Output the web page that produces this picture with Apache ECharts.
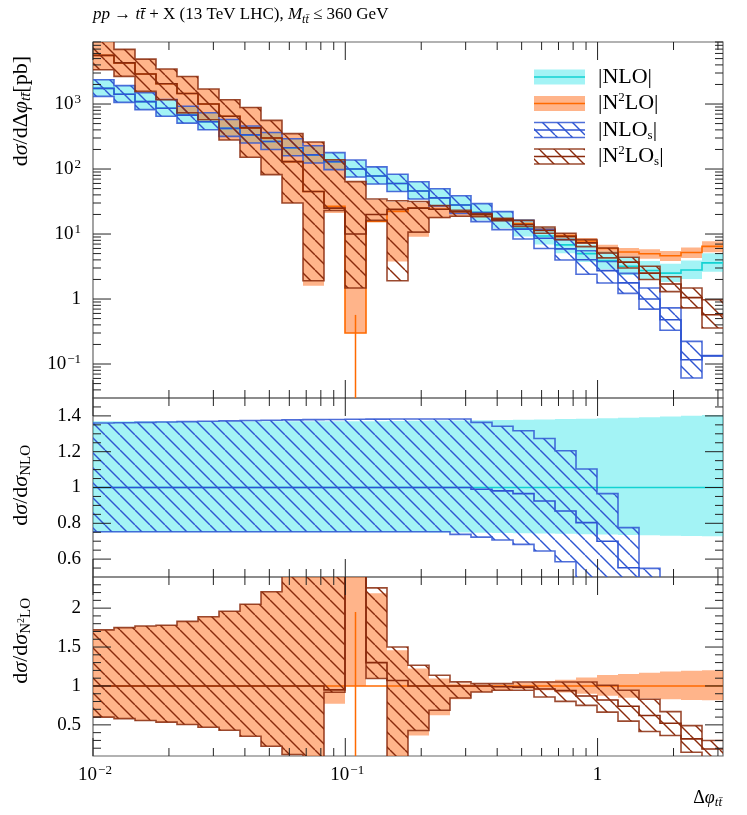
<!DOCTYPE html>
<html>
<head>
<meta charset="utf-8">
<script src="https://cdn.jsdelivr.net/npm/echarts@6.0.0/dist/echarts.min.js"></script>
<style>
html,body{margin:0;padding:0;background:#fff;}
#chart{width:747px;height:815px;}
</style>
</head>
<body>
<div id="chart"></div>
<script>
// ---------------- DATA ----------------
// 30 logarithmic bins of delta phi from 0.01 to pi
const binEdges = [0.01, 0.0121127, 0.0146716, 0.0177712, 0.0215257, 0.0260733, 0.0315817, 0.0382538, 0.0463355, 0.0561246,
  0.0679817, 0.0823439, 0.0997402, 0.120812, 0.146335, 0.177251, 0.214698, 0.260056, 0.314996, 0.381544,
  0.462151, 0.559788, 0.678051, 0.821300, 0.994802, 1.204969, 1.459537, 1.767887, 2.141380, 2.593779, 3.14159];

// main panel  [pb]
const nloMid = [1740, 1410, 1090, 860, 675, 535, 422, 335, 265, 212, 165, 130, 100, 78, 60, 46, 36, 28, 21.5, 16.5, 12.3, 9.3, 6.8, 5.0, 3.9, 3.2, 2.75, 2.5, 2.8, 3.6];
const nloHi  = [2384, 1932, 1493, 1178, 925, 733, 578, 459, 363, 290, 226, 178, 137, 107, 82.3, 63.2, 49.5, 38.5, 29.6, 22.7, 16.9, 12.8, 9.40, 6.92, 5.41, 4.45, 3.83, 3.49, 3.92, 5.06];
const nloLo  = [1305, 1058, 818, 645, 506, 401, 317, 251, 199, 159, 124, 97.5, 75, 58.5, 45, 34.5, 27.0, 20.9, 16.1, 12.3, 9.16, 6.91, 5.04, 3.70, 2.87, 2.35, 2.02, 1.83, 2.04, 2.62];

const n2loMid = [5600, 4300, 2900, 2050, 1450, 1000, 650, 430, 300, 130, 45, 26.6, 0.30, 15.6, 22.3, 25, 24, 22, 20, 17, 14.5, 11.8, 9.5, 7.8, 6.0, 5.3, 4.97, 4.64, 5.2, 6.45];
const n2loHi  = [9632, 6940, 4900, 3450, 2654, 1700, 1164, 882, 560, 350, 260, 139, 64, 33.5, 31.5, 30.6, 26.3, 22.7, 20.4, 17.3, 15.1, 12.5, 10.3, 8.66, 6.84, 6.12, 5.81, 5.50, 6.21, 7.76];
const n2loLo  = [3360, 2660, 1563, 1164, 732, 573, 280, 152, 82, 30, 1.6, 21, 0.30, 15.3, 3.79, 9.1, 17.5, 18.6, 18.4, 16.0, 13.9, 11.2, 8.7, 7.02, 5.25, 4.51, 4.17, 3.85, 4.26, 5.26];
const n2loStatUp = [null, null, null, null, null, null, null, null, null, null, null, null, 0.57, null, null, null, null, null, null, null, null, null, null, null, null, null, null, null, null, null];

const nlosMid = [1740, 1410, 1090, 860, 675, 535, 422, 335, 265, 212, 165, 130, 100, 78, 60, 46, 36, 28, 21.3, 16.2, 11.9, 8.60, 5.91, 4.02, 2.73, 1.77, 1.0, 0.48, 0.116, 0.134];
const nlosHi  = [2366, 1920, 1487, 1175, 923, 733, 579, 460, 365, 292, 228, 179, 138, 108, 83.0, 63.6, 49.8, 38.7, 29.3, 22.1, 16.2, 11.8, 8.19, 5.52, 3.77, 2.48, 1.48, 0.73, 0.223, 0.135];
const nlosLo  = [1310, 1062, 821, 648, 508, 403, 318, 252, 200, 160, 124, 97.9, 75.3, 58.7, 45.2, 34.6, 27.1, 20.7, 15.5, 11.7, 8.39, 6.0, 3.98, 2.4, 1.76, 1.22, 0.70, 0.33, 0.061, 0.133];

const n2losMid = [5600, 4300, 2900, 2050, 1450, 1000, 650, 430, 300, 130, 45, 25, 10, 20, 23.9, 25, 24, 22, 20, 16.8, 14.0, 11.3, 9.2, 7.3, 5.1, 3.7, 2.5, 1.7, 1.05, 0.574];
const n2losHi  = [9632, 6940, 4900, 3450, 2654, 1700, 1164, 882, 560, 350, 260, 139, 64, 34.5, 32.5, 31.7, 27.3, 23.1, 20.6, 17.5, 16.2, 12.8, 10.3, 8.2, 6.1, 4.4, 3.2, 2.2, 1.48, 0.975];
const n2losLo  = [3360, 2660, 1563, 1164, 732, 573, 280, 152, 82, 30, 1.91, 23, 1.48, 16.2, 1.91, 10.7, 18.0, 18.8, 18.5, 16.0, 13.1, 10.3, 8.2, 6.4, 4.3, 3.0, 2.0, 1.3, 0.73, 0.358];

// ratio to NLO
const rNloHi = [1.37, 1.37, 1.37, 1.37, 1.37, 1.37, 1.37, 1.37, 1.37, 1.37, 1.37, 1.37, 1.37, 1.37, 1.372, 1.373, 1.374, 1.375, 1.376, 1.377, 1.378, 1.38, 1.382, 1.384, 1.387, 1.39, 1.393, 1.397, 1.401, 1.405];
const rNloLo = [0.75, 0.75, 0.75, 0.75, 0.75, 0.75, 0.75, 0.75, 0.75, 0.75, 0.75, 0.75, 0.75, 0.75, 0.75, 0.75, 0.749, 0.748, 0.747, 0.746, 0.745, 0.743, 0.741, 0.739, 0.737, 0.735, 0.733, 0.731, 0.729, 0.727];
const rNlosHi  = [1.360, 1.362, 1.364, 1.366, 1.368, 1.370, 1.372, 1.374, 1.376, 1.378, 1.379, 1.380, 1.381, 1.382, 1.383, 1.383, 1.383, 1.383, 1.364, 1.342, 1.317, 1.274, 1.205, 1.103, 0.966, 0.776, 0.548, 0.292, 0.080, 0.037];
const rNlosMid = [1, 1, 1, 1, 1, 1, 1, 1, 1, 1, 1, 1, 1, 1, 1, 1, 1, 1, 0.99, 0.981, 0.966, 0.925, 0.869, 0.804, 0.700, 0.552, 0.364, 0.192, 0.041, 0.037];
const rNlosLo  = [0.753, 0.753, 0.753, 0.753, 0.753, 0.753, 0.753, 0.753, 0.753, 0.753, 0.753, 0.753, 0.753, 0.753, 0.753, 0.753, 0.753, 0.738, 0.723, 0.707, 0.682, 0.645, 0.585, 0.48, 0.45, 0.38, 0.255, 0.132, 0.022, 0.036];

// ratio to N2LO
const rN2loHi = [1.72, 1.75, 1.77, 1.78, 1.83, 1.89, 1.96, 2.05, 2.21, 3.0, 6.0, 5.2, 213, 2.19, 1.46, 1.224, 1.095, 1.03, 1.02, 1.02, 1.04, 1.06, 1.08, 1.11, 1.14, 1.155, 1.17, 1.185, 1.195, 1.203];
const rN2loLo = [0.60, 0.58, 0.557, 0.535, 0.505, 0.47, 0.43, 0.354, 0.225, 0.12, 0.035, 0.77, 1.0, 1.095, 0.10, 0.363, 0.623, 0.828, 0.92, 0.944, 0.96, 0.945, 0.915, 0.90, 0.875, 0.85, 0.84, 0.83, 0.82, 0.815];
const rN2loStatUp = [null, null, null, null, null, null, null, null, null, null, null, null, 1.95, null, null, null, null, null, null, null, null, null, null, null, null, null, null, null, null, null];
const rN2losHi  = [1.72, 1.75, 1.77, 1.78, 1.83, 1.89, 1.96, 2.05, 2.21, 3.0, 6.0, 5.2, 213, 2.26, 1.50, 1.267, 1.138, 1.052, 1.03, 1.03, 1.05, 1.05, 1.05, 1.05, 1.01, 0.944, 0.83, 0.67, 0.49, 0.30];
const rN2losMid = [1, 1, 1, 1, 1, 1, 1, 1, 1, 1, 1, 0.95, 33, 1.3, 1.07, 1.0, 1.0, 1.0, 1.0, 0.99, 0.985, 0.96, 0.94, 0.87, 0.82, 0.74, 0.62, 0.52, 0.32, 0.19];
const rN2losLo  = [0.60, 0.58, 0.557, 0.535, 0.505, 0.47, 0.43, 0.354, 0.225, 0.12, 0.042, 0.92, 4.9, 1.095, 0.085, 0.427, 0.687, 0.845, 0.923, 0.944, 0.944, 0.858, 0.802, 0.75, 0.664, 0.548, 0.414, 0.363, 0.148, 0.085];

// axis ticks
const xMajor = [0.01, 0.1, 1];
const xMinor = [0.02, 0.03, 0.04, 0.05, 0.06, 0.07, 0.08, 0.09, 0.2, 0.3, 0.4, 0.5, 0.6, 0.7, 0.8, 0.9, 2, 3];
const xLabels = [['10', '−2'], ['10', '−1'], ['1', '']];
const topMajor = [0.1, 1, 10, 100, 1000];
const topMinor = [0.04, 0.05, 0.06, 0.07, 0.08, 0.09, 0.2, 0.3, 0.4, 0.5, 0.6, 0.7, 0.8, 0.9, 2, 3, 4, 5, 6, 7, 8, 9,
  20, 30, 40, 50, 60, 70, 80, 90, 200, 300, 400, 500, 600, 700, 800, 900, 2000, 3000, 4000, 5000, 6000, 7000, 8000, 9000];
const topLabels = [['10', '−1'], ['1', ''], ['10', '1'], ['10', '2'], ['10', '3']];
const midMajor = [0.6, 0.8, 1.0, 1.2, 1.4];
const midMinor = [0.55, 0.65, 0.7, 0.75, 0.85, 0.9, 0.95, 1.05, 1.1, 1.15, 1.25, 1.3, 1.35, 1.45];
const midLabels = ['0.6', '0.8', '1', '1.2', '1.4'];
const botMajor = [0.5, 1.0, 1.5, 2.0];
const botMinor = [0.2, 0.3, 0.4, 0.6, 0.7, 0.8, 0.9, 1.1, 1.2, 1.3, 1.4, 1.6, 1.7, 1.8, 1.9, 2.1, 2.2, 2.3];
const botLabels = ['0.5', '1', '1.5', '2'];

// ---------------- STYLE ----------------
const FONT = '"Liberation Serif", "DejaVu Serif", serif';
const C = {
  cyanFill: 'rgba(0,222,226,0.36)', cyanLine: '#12d2d2',
  orFill: 'rgba(255,112,30,0.52)', orLine: '#ff6a00',
  blue: '#2f55d2', brown: '#8a2a0c'
};
function hatch(color) {
  const s = 15, c = document.createElement('canvas');
  c.width = s; c.height = s;
  const g = c.getContext('2d');
  g.strokeStyle = color; g.lineWidth = 1.4;
  for (const k of [-1, 0, 1]) { g.beginPath(); g.moveTo(k * s, 0); g.lineTo(k * s + s, s); g.stroke(); }
  return { image: c, repeat: 'repeat' };
}
const blueHatch = hatch(C.blue), brownHatch = hatch(C.brown);

const GRID = [{ top: 42, h: 356 }, { top: 398, h: 179 }, { top: 577, h: 179 }];
const LEFT = 93, WIDTH = 630;
const isLog = [true, false, false];

function clipPolyline(pts, top, bot) {
  const out = []; let cur = null;
  for (let k = 0; k < pts.length - 1; k++) {
    const [x1, y1] = pts[k], [x2, y2] = pts[k + 1];
    let seg = null;
    if (Math.abs(y1 - y2) < 1e-9) {
      if (y1 >= top - 0.01 && y1 <= bot + 0.01) seg = [[x1, y1], [x2, y2]];
    } else {
      const lo = Math.max(Math.min(y1, y2), top), hi = Math.min(Math.max(y1, y2), bot);
      if (hi > lo) seg = [[x1, Math.max(top, Math.min(bot, y1))], [x2, Math.max(top, Math.min(bot, y2))]];
    }
    if (!seg) { cur = null; continue; }
    if (cur) cur.push(seg[1]); else { cur = [seg[0], seg[1]]; out.push(cur); }
  }
  return out;
}

// generic band series; layers: fill, hatch, edge, mid
function band(gi, lo, mid, hi, st) {
  return {
    type: 'custom', xAxisIndex: gi, yAxisIndex: gi, z: st.z, silent: true,
    data: [[0.1, 1]],
    renderItem: function (params, api) {
      const top = GRID[gi].top, bot = GRID[gi].top + GRID[gi].h;
      const X = e => api.coord([e, 1])[0];
      const Y = v => {
        if (v == null) return null;
        if (isLog[gi] && v <= 0) return bot + 2000;
        const y = api.coord([1, v])[1];
        return Math.max(top - 2000, Math.min(bot + 2000, y));
      };
      const cl = y => Math.max(top, Math.min(bot, y));
      const n = binEdges.length - 1;
      const xs = binEdges.map(X);
      const children = [];
      const runs = []; let r = null;
      for (let i = 0; i < n; i++) {
        const ok = lo && hi ? (lo[i] != null && hi[i] != null) : (mid[i] != null);
        if (ok) { if (!r) { r = []; runs.push(r); } r.push(i); } else r = null;
      }
      if (lo && hi && (st.fill || st.hatch)) {
        for (const run of runs) {
          const poly = [];
          for (const i of run) { const y = cl(Y(hi[i])); poly.push([xs[i], y], [xs[i + 1], y]); }
          for (let k = run.length - 1; k >= 0; k--) { const i = run[k]; const y = cl(Y(lo[i])); poly.push([xs[i + 1], y], [xs[i], y]); }
          if (st.fill) children.push({ type: 'polygon', shape: { points: poly }, style: { fill: st.fill, stroke: null } });
          if (st.hatch) children.push({ type: 'polygon', shape: { points: poly }, style: { fill: st.hatch, stroke: null } });
        }
      }
      const stepLine = (arr, color, w, op) => {
        for (const run of runs) {
          const pts = [];
          for (const i of run) { const y = Y(arr[i]); pts.push([xs[i], y], [xs[i + 1], y]); }
          for (const pl of clipPolyline(pts, top, bot)) {
            children.push({ type: 'polyline', shape: { points: pl }, style: { stroke: color, lineWidth: w, fill: null, opacity: op == null ? 1 : op } });
          }
        }
      };
      if (st.edge && lo && hi) { stepLine(hi, st.edge, st.edgeW || 1.6, 0.85); stepLine(lo, st.edge, st.edgeW || 1.6, 0.85); }
      if (st.mid && mid) stepLine(mid, st.mid, st.midW || 1.6, 1);
      if (st.stat) {
        for (let i = 0; i < n; i++) {
          if (st.stat[i] == null) continue;
          const xc = (xs[i] + xs[i + 1]) / 2;
          children.push({ type: 'line', shape: { x1: xc, y1: cl(Y(st.stat[i])), x2: xc, y2: bot }, style: { stroke: st.mid, lineWidth: 1.5 } });
        }
      }
      return { type: 'group', children: children };
    }
  };
}

const ones = binEdges.slice(1).map(() => 1);
const series = [
  // main panel
  band(0, nloLo, null, nloHi, { z: 1, fill: C.cyanFill }),
  band(0, n2loLo, null, n2loHi, { z: 2, fill: C.orFill }),
  band(0, null, nloMid, null, { z: 3, mid: C.cyanLine }),
  band(0, null, n2loMid, null, { z: 4, mid: C.orLine, stat: n2loStatUp }),
  band(0, nlosLo, nlosMid, nlosHi, { z: 5, hatch: blueHatch, edge: C.blue, mid: C.blue }),
  band(0, n2losLo, n2losMid, n2losHi, { z: 6, hatch: brownHatch, edge: C.brown, mid: C.brown }),
  // NLO ratio
  band(1, rNloLo, null, rNloHi, { z: 1, fill: C.cyanFill }),
  band(1, null, ones, null, { z: 3, mid: C.cyanLine }),
  band(1, rNlosLo, rNlosMid, rNlosHi, { z: 5, hatch: blueHatch, edge: C.blue, mid: C.blue }),
  // N2LO ratio
  band(2, rN2loLo, null, rN2loHi, { z: 2, fill: C.orFill }),
  band(2, null, ones, null, { z: 4, mid: C.orLine, stat: rN2loStatUp }),
  band(2, rN2losLo, rN2losMid, rN2losHi, { z: 6, hatch: brownHatch, edge: C.brown, mid: C.brown })
];

const option = {
  animation: false,
  backgroundColor: '#fff',
  grid: GRID.map(g => ({ left: LEFT, top: g.top, width: WIDTH, height: g.h, show: true, borderColor: '#666', borderWidth: 1.2, backgroundColor: 'transparent' })),
  xAxis: [0, 1, 2].map(i => ({ type: 'log', logBase: 10, min: 0.01, max: 3.14159, gridIndex: i, show: false })),
  yAxis: [
    { type: 'log', logBase: 10, min: 0.03, max: 9000, gridIndex: 0, show: false },
    { type: 'value', min: 0.5, max: 1.5, gridIndex: 1, show: false },
    { type: 'value', min: 0.1, max: 2.4, gridIndex: 2, show: false }
  ],
  series: series
};

const chart = echarts.init(document.getElementById('chart'), null, { renderer: 'canvas' });
chart.setOption(option);

// ---------------- axes decorations ----------------
const P = (gi, x, y) => chart.convertToPixel({ gridIndex: gi }, [x, y]);
const gfx = [];
const TICK = '#222';
function line(x1, y1, x2, y2) {
  gfx.push({ type: 'line', z: 100, silent: true, shape: { x1, y1, x2, y2 }, style: { stroke: TICK, lineWidth: 1 } });
}
function text(x, y, t, rich, align, valign, rot) {
  gfx.push({ type: 'text', z: 100, silent: true, x: x, y: y, rotation: rot || 0,
    style: { text: t, rich: rich, fill: '#000', font: '17px ' + FONT,
      align: align, verticalAlign: valign, textAlign: align, textVerticalAlign: valign } });
}
const richNum = {
  b: { fontSize: 19, fontFamily: FONT, fill: '#000', lineHeight: 22, verticalAlign: 'middle' },
  p: { fontSize: 13, fontFamily: FONT, fill: '#000', lineHeight: 13, verticalAlign: 'top', padding: [0, 0, 0, 1] }
};
for (let gi = 0; gi < 3; gi++) {
  const top = GRID[gi].top, bot = top + GRID[gi].h;
  for (const v of xMajor) { const x = P(gi, v, 1)[0]; line(x, bot, x, bot - 18); line(x, top, x, top + 18); }
  for (const v of xMinor) { const x = P(gi, v, 1)[0]; line(x, bot, x, bot - 8); line(x, top, x, top + 8); }
}
function yTicks(gi, majors, minors) {
  const R = LEFT + WIDTH;
  for (const v of majors) { const y = P(gi, 1, v)[1]; line(LEFT, y, LEFT + 18, y); line(R, y, R - 18, y); }
  for (const v of minors) { const y = P(gi, 1, v)[1]; line(LEFT, y, LEFT + 8, y); line(R, y, R - 8, y); }
}
yTicks(0, topMajor, topMinor);
yTicks(1, midMajor, midMinor);
yTicks(2, botMajor, botMinor);
topMajor.forEach((v, k) => {
  const y = P(0, 1, v)[1]; const [b, p] = topLabels[k];
  text(81, y, p ? '{b|' + b + '}{p|' + p + '}' : '{b|' + b + '}', richNum, 'right', 'middle');
});
midMajor.forEach((v, k) => { const y = P(1, 1, v)[1]; text(81, y, '{b|' + midLabels[k] + '}', richNum, 'right', 'middle'); });
botMajor.forEach((v, k) => { const y = P(2, 1, v)[1]; text(81, y, '{b|' + botLabels[k] + '}', richNum, 'right', 'middle'); });
xMajor.forEach((v, k) => {
  const x = P(2, v, 1)[0]; const [b, p] = xLabels[k];
  text(x + (p ? 2 : 0), 775, p ? '{b|' + b + '}{p|' + p + '}' : '{b|' + b + '}', richNum, 'center', 'middle');
});

// titles
const richY = {
  n: { fontSize: 22, fontFamily: FONT, fill: '#000', lineHeight: 26, verticalAlign: 'middle' },
  i: { fontSize: 22, fontFamily: FONT, fontStyle: 'italic', fill: '#000', lineHeight: 26, verticalAlign: 'middle' },
  s: { fontSize: 15, fontFamily: FONT, fontStyle: 'italic', fill: '#000', lineHeight: 13, verticalAlign: 'bottom' },
  su: { fontSize: 15, fontFamily: FONT, fill: '#000', lineHeight: 13, verticalAlign: 'bottom' },
  sp: { fontSize: 10, fontFamily: FONT, fill: '#000', lineHeight: 26, verticalAlign: 'bottom', padding: [0, 0, 8, 0] }
};
const richX = {
  n: { fontSize: 18, fontFamily: FONT, fill: '#000', lineHeight: 22, verticalAlign: 'middle' },
  i: { fontSize: 18, fontFamily: FONT, fontStyle: 'italic', fill: '#000', lineHeight: 22, verticalAlign: 'middle' },
  s: { fontSize: 13, fontFamily: FONT, fontStyle: 'italic', fill: '#000', lineHeight: 11, verticalAlign: 'bottom' }
};
const richTitle = {
  n: { fontSize: 17, fontFamily: FONT, fill: '#000', lineHeight: 22, verticalAlign: 'middle' },
  i: { fontSize: 17, fontFamily: FONT, fontStyle: 'italic', fill: '#000', lineHeight: 22, verticalAlign: 'middle' },
  s: { fontSize: 12, fontFamily: FONT, fontStyle: 'italic', fill: '#000', lineHeight: 11, verticalAlign: 'bottom' }
};
text(93, 15, '{i|pp} {n|→} {i|t\u0074\u0304} {n|+ X (13 TeV LHC),} {i|M}{s|t\u0074\u0304}{n| ≤ 360 GeV}', richTitle, 'left', 'middle');
text(722, 798, '{n|Δ}{i|φ}{s|t\u0074\u0304}', richX, 'right', 'middle');
text(21, 56, '{n|d}{i|σ}{n|/d}{n|Δ}{i|φ}{s|t\u0074\u0304}{n|[pb]}', richY, 'right', 'middle', Math.PI / 2);
text(21, 445, '{n|d}{i|σ}{n|/d}{i|σ}{su|NLO}', richY, 'right', 'middle', Math.PI / 2);
text(21, 598, '{n|d}{i|σ}{n|/d}{i|σ}{su|N}{sp|2}{su|LO}', richY, 'right', 'middle', Math.PI / 2);

// legend (decoration)
const LX = 534, LW = 51, LH = 15;
const legRows = [77, 103.5, 130, 156.5];
const richL = {
  n: { fontSize: 22, fontFamily: FONT, fill: '#000', lineHeight: 24, verticalAlign: 'middle' },
  p: { fontSize: 13, fontFamily: FONT, fill: '#000', lineHeight: 12, verticalAlign: 'top' },
  s: { fontSize: 13, fontFamily: FONT, fill: '#000', lineHeight: 12, verticalAlign: 'bottom' }
};
function swatchRect(yc, fill) { gfx.push({ type: 'rect', z: 90, silent: true, shape: { x: LX, y: yc - LH / 2, width: LW, height: LH }, style: { fill: fill, stroke: null } }); }
function swatchLine(y, color, w, op) { gfx.push({ type: 'line', z: 91, silent: true, shape: { x1: LX, y1: y, x2: LX + LW, y2: y }, style: { stroke: color, lineWidth: w, opacity: op == null ? 1 : op } }); }
swatchRect(legRows[0], C.cyanFill); swatchLine(legRows[0], C.cyanLine, 1.6);
swatchRect(legRows[1], C.orFill); swatchLine(legRows[1], C.orLine, 1.6);
swatchRect(legRows[2], blueHatch); swatchLine(legRows[2] - LH / 2, C.blue, 1.6, 0.85); swatchLine(legRows[2] + LH / 2, C.blue, 1.6, 0.85); swatchLine(legRows[2], C.blue, 1.6);
swatchRect(legRows[3], brownHatch); swatchLine(legRows[3] - LH / 2, C.brown, 1.6, 0.85); swatchLine(legRows[3] + LH / 2, C.brown, 1.6, 0.85); swatchLine(legRows[3], C.brown, 1.6);
text(598, legRows[0], '{n||NLO|}', richL, 'left', 'middle');
text(598, legRows[1], '{n||N}{p|2}{n|LO|}', richL, 'left', 'middle');
text(598, legRows[2], '{n||NLO}{s|s}{n||}', richL, 'left', 'middle');
text(598, legRows[3], '{n||N}{p|2}{n|LO}{s|s}{n||}', richL, 'left', 'middle');

chart.setOption({ graphic: { elements: gfx } });
</script>
</body>
</html>
